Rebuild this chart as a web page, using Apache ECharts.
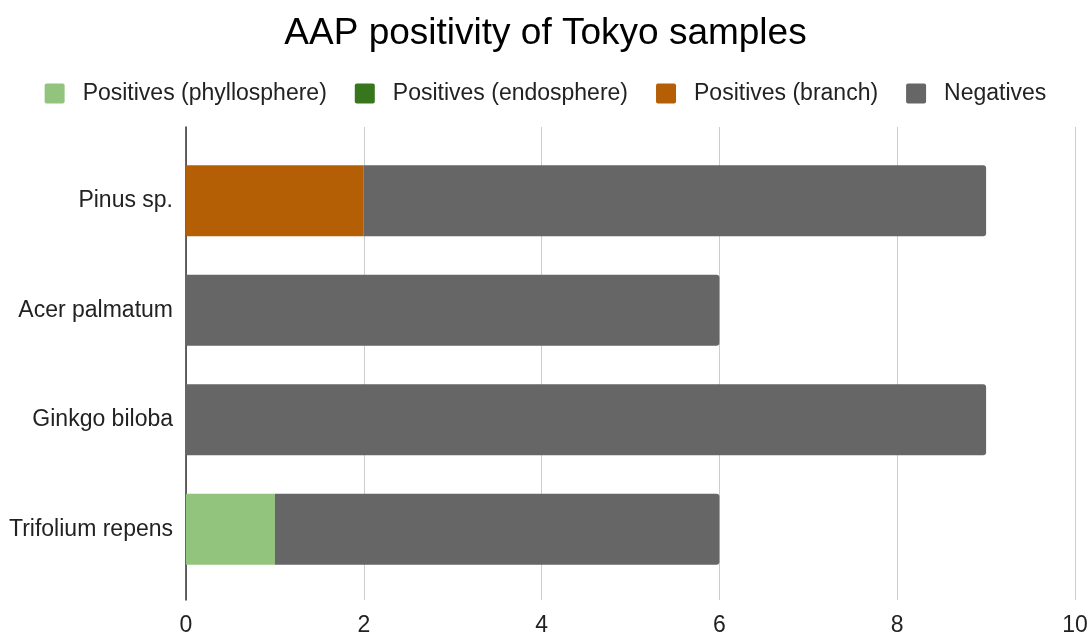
<!DOCTYPE html>
<html>
<head>
<meta charset="utf-8">
<script src="https://cdn.jsdelivr.net/npm/echarts@6/dist/echarts.min.js"></script>
<style>
  html, body { margin: 0; padding: 0; background: #fff; }
  #chart { width: 1091px; height: 637px; }
</style>
</head>
<body>
<div id="chart"></div>
<script>
// Sample species (top to bottom)
const categories = ['Pinus sp.', 'Acer palmatum', 'Ginkgo biloba', 'Trifolium repens'];
// Sample counts per outcome
const positivesPhyllosphere = [0, 0, 0, 1];
const positivesEndosphere = [0, 0, 0, 0];
const positivesBranch = [2, 0, 0, 0];
const negatives = [7, 6, 9, 5];
// Value axis ticks
const xTicks = [0, 2, 4, 6, 8, 10];

const FONT = '"Liberation Sans", Arial, sans-serif';
const colors = {
  phyllo: '#93c47d',
  endo: '#38761d',
  branch: '#b45f06',
  neg: '#666666'
};

function stackSeries(name, data, color, rounded) {
  return {
    name: name,
    type: 'bar',
    stack: 'total',
    xAxisIndex: 1,
    yAxisIndex: 1,
    barCategoryGap: '35%',
    data: data,
    itemStyle: {
      color: color,
      borderRadius: rounded ? [0, 3, 3, 0] : 0
    }
  };
}

const chart = echarts.init(document.getElementById('chart'), null, { renderer: 'canvas' });
chart.setOption({
  animation: false,
  backgroundColor: '#ffffff',
  title: {
    text: 'AAP positivity of Tokyo samples',
    left: 'center',
    top: 10,
    textStyle: { fontFamily: FONT, fontSize: 37, fontWeight: 'normal', color: '#000' }
  },
  legend: {
    top: 77,
    left: 'center',
    itemWidth: 20,
    itemHeight: 20,
    itemGap: 28,
    icon: 'path://M2,0 H18 A2,2 0 0 1 20,2 V18 A2,2 0 0 1 18,20 H2 A2,2 0 0 1 0,18 V2 A2,2 0 0 1 2,0 Z',
    textStyle: { fontFamily: FONT, fontSize: 23, color: '#222', padding: [0, 0, 0, 13] },
    data: ['Positives (phyllosphere)', 'Positives (endosphere)', 'Positives (branch)', 'Negatives']
  },
  grid: [
    // frame: gridlines and the vertical baseline
    { left: 186, right: 16, top: 127, bottom: 35 },
    // bars
    { left: 186, right: 16, top: 146, height: 438 }
  ],
  xAxis: [
    {
      gridIndex: 0,
      type: 'value',
      min: xTicks[0],
      max: xTicks[xTicks.length - 1],
      interval: 2,
      axisLine: { show: false },
      axisTick: { show: false },
      splitLine: { lineStyle: { color: '#cccccc', width: 1 } },
      axisLabel: { fontFamily: FONT, fontSize: 23, color: '#222', margin: 14 }
    },
    {
      gridIndex: 1,
      type: 'value',
      min: xTicks[0],
      max: xTicks[xTicks.length - 1],
      show: false
    }
  ],
  yAxis: [
    {
      gridIndex: 0,
      type: 'category',
      data: [''],
      axisLine: { show: true, lineStyle: { color: '#333', width: 1.5 } },
      axisTick: { show: false },
      axisLabel: { show: false },
      splitLine: { show: false }
    },
    {
      gridIndex: 1,
      type: 'category',
      inverse: true,
      data: categories,
      axisLine: { show: false },
      axisTick: { show: false },
      axisLabel: { fontFamily: FONT, fontSize: 23, color: '#222', margin: 13 }
    }
  ],
  series: [
    stackSeries('Positives (phyllosphere)', positivesPhyllosphere, colors.phyllo, false),
    stackSeries('Positives (endosphere)', positivesEndosphere, colors.endo, false),
    stackSeries('Positives (branch)', positivesBranch, colors.branch, false),
    stackSeries('Negatives', negatives, colors.neg, true)
  ]
});
</script>
</body>
</html>
